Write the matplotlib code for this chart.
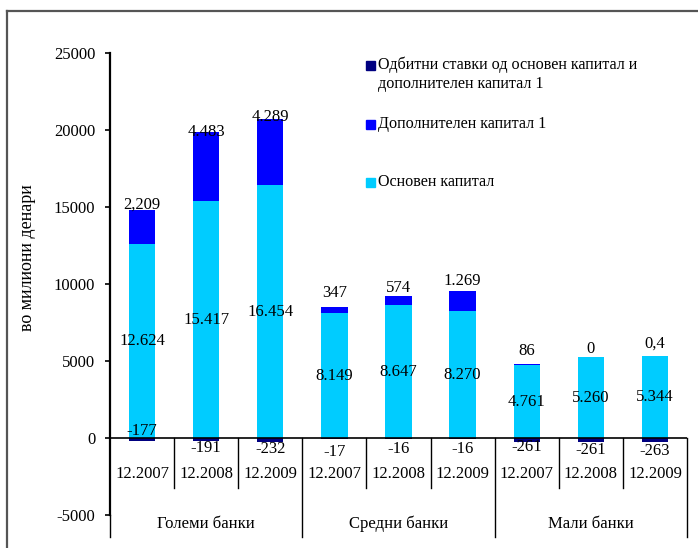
import matplotlib.pyplot as plt
from matplotlib.lines import Line2D
from matplotlib.patches import Rectangle

plt.rcParams['font.family'] = ['Liberation Serif', 'DejaVu Serif']
plt.rcParams['font.size'] = 12
plt.rcParams['axes.unicode_minus'] = False

groups = ["Големи банки", "Средни банки", "Мали банки"]
years = ["12.2007", "12.2008", "12.2009"]

base_capital = [12624, 15417, 16454, 8149, 8647, 8270, 4761, 5260, 5344]
additional_capital = [2209, 4483, 4289, 347, 574, 1269, 86, 0, 0.4]
deductions = [-177, -191, -232, -17, -16, -16, -261, -261, -263]

base_text = ["12.624", "15.417", "16.454", "8.149", "8.647", "8.270", "4.761", "5.260", "5.344"]
additional_text = ["2,209", "4.483", "4.289", "347", "574", "1.269", "86", "0", "0,4"]
deduction_text = ["-177", "-191", "-232", "-17", "-16", "-16", "-261", "-261", "-263"]

series_names = [["Одбитни ставки од основен капитал и", "дополнителен капитал 1"],
                ["Дополнителен капитал 1"],
                ["Основен капитал"]]
colors = ["#000080", "#0000FF", "#00CCFF"]

# label nudges in pixels (Excel placed them a bit irregularly)
add_dy = [5, 0, 2, 14, 8, 10, 13, 8, 12]
ded_dy = [10, -7, -7, -13, -10, -10, -5, -8, -9]

W, H = 698, 548
fig = plt.figure(figsize=(W / 100, H / 100), dpi=100)
ax = fig.add_axes([110 / W, 1 - 537 / H, 577 / W, 484 / H])

x = list(range(len(base_capital)))
top = [b + a for b, a in zip(base_capital, additional_capital)]
bw = 0.41

ax.bar(x, base_capital, width=bw, color=colors[2], zorder=2)
ax.bar(x, additional_capital, width=bw, bottom=base_capital, color=colors[1], zorder=2)
ax.bar(x, deductions, width=bw, color=colors[0], zorder=3)

for i in x:
    ax.text(i, base_capital[i] / 2, base_text[i], ha='center', va='center', zorder=4)
    ax.annotate(additional_text[i], (i, top[i]), xytext=(0, add_dy[i]),
                textcoords='offset pixels', ha='center', va='center', zorder=4)
    ax.annotate(deduction_text[i], (i, deductions[i]), xytext=(0, ded_dy[i]),
                textcoords='offset pixels', ha='center', va='center', zorder=4)

ax.set_xlim(-0.5, len(x) - 0.5)
ax.set_ylim(-6400, 25000)
ax.set_yticks(range(-5000, 25001, 5000))
ax.tick_params(axis='y', length=3.6, width=1.2, pad=7)
ax.set_xticks([])
for s in ['top', 'right', 'bottom']:
    ax.spines[s].set_visible(False)
ax.spines['left'].set_bounds(-5000, 25000)
ax.spines['left'].set_linewidth(1.6)
ax.axhline(0, color='black', lw=1.2, zorder=5)

# two-level category axis
ax.plot([-0.5, -0.5], [-6400, -5000], color='black', lw=1, clip_on=False)
for k in range(1, len(x) + 1):
    bottom = -6400 if k % 3 == 0 else -3220
    ax.plot([k - 0.5, k - 0.5], [0, bottom], color='black', lw=1, clip_on=False)
for i in x:
    ax.text(i, -2310, years[i % 3], ha='center', va='center')
for g, name in enumerate(groups):
    ax.text(3 * g + 1, -5550, name, ha='center', va='center')

fig.text(28 / W, 1 - 258 / H, "во милиони денари", rotation=90,
         ha='center', va='center', fontsize=13)

# legend drawn by hand to keep Excel's spacing
legend_rows = [65, 124, 182]
for my, lines, c in zip(legend_rows, series_names, colors):
    fig.add_artist(Rectangle((366 / W, 1 - (my + 4.5) / H), 9 / W, 9 / H,
                             transform=fig.transFigure, color=c))
    for j, line in enumerate(lines):
        fig.text(378 / W, 1 - (my + 19 * j) / H, line, ha='left', va='center',
                 fontsize=11.6)

# outer frame
fig.add_artist(Line2D([7.5 / W, 1], [1 - 10.5 / H, 1 - 10.5 / H], color='#555555', lw=1.6))
fig.add_artist(Line2D([7.5 / W, 7.5 / W], [0, 1 - 10.5 / H], color='#555555', lw=1.6))

fig.savefig("out.png", dpi=100)
